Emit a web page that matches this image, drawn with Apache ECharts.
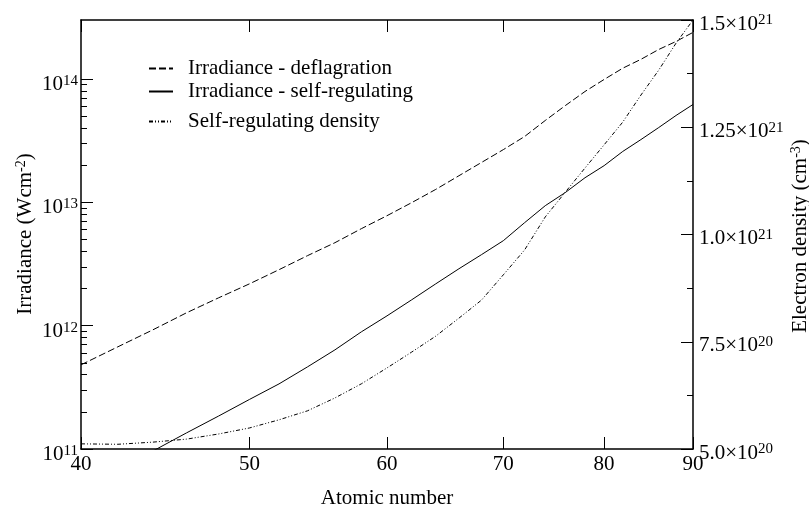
<!DOCTYPE html>
<html>
<head>
<meta charset="utf-8">
<script src="https://cdn.jsdelivr.net/npm/echarts@6/dist/echarts.min.js"></script>
<style>
  html, body { margin: 0; padding: 0; background: #fff; }
  #chart { width: 809px; height: 508px; }
</style>
</head>
<body>
<div id="chart"></div>
<script>
// Atomic number (x) and the three curves sampled at each Z
const atomicNumber = [40, 42, 44, 46, 48, 50, 52, 54, 56, 58, 60, 62, 64, 66, 68, 70, 72, 74, 76, 78, 80, 82, 84, 86, 88, 90];
const irradianceDeflagration = [4.81e11, 6.73e11, 9.25e11, 1.27e12, 1.68e12, 2.18e12, 2.84e12, 3.69e12, 4.70e12, 6.11e12, 7.78e12, 9.93e12, 1.27e13, 1.64e13, 2.10e13, 2.67e13, 3.41e13, 4.60e13, 6.08e13, 7.90e13, 9.89e13, 1.22e14, 1.44e14, 1.73e14, 2.01e14, 2.38e14];
const irradianceSelfRegulating = [4.73e10, 6.89e10, 9.63e10, 1.35e11, 1.85e11, 2.52e11, 3.37e11, 4.63e11, 6.36e11, 8.91e11, 1.20e12, 1.62e12, 2.18e12, 2.89e12, 3.76e12, 4.88e12, 6.83e12, 9.38e12, 1.20e13, 1.58e13, 1.98e13, 2.58e13, 3.22e13, 4.03e13, 5.05e13, 6.20e13];
const electronDensity = [5.12e20, 5.11e20, 5.16e20, 5.23e20, 5.35e20, 5.49e20, 5.68e20, 5.89e20, 6.19e20, 6.52e20, 6.89e20, 7.26e20, 7.63e20, 8.05e20, 8.47e20, 9.06e20, 9.64e20, 10.41e20, 10.99e20, 11.55e20, 12.09e20, 12.62e20, 13.25e20, 13.83e20, 14.46e20, 15.0e20];

// Tick values
const xTicks = [40, 50, 60, 70, 80, 90];
const irradianceMajorTicks = [1e11, 1e12, 1e13, 1e14];
const irradianceMinorTicks = [];
[1e11, 1e12, 1e13].forEach(function (decade) {
  for (let k = 2; k <= 9; k++) irradianceMinorTicks.push(k * decade);
});

const seriesNames = ['Irradiance - deflagration', 'Irradiance - self-regulating', 'Self-regulating density'];

const FONT = 'Liberation Serif';
const FS = 21;
const BLACK = '#000';

function pairs(values) {
  return atomicNumber.map(function (z, i) { return [z, values[i]]; });
}

function powerLabel(value) {
  const exp = Math.round(Math.log10(value));
  return '{b|10}{s|' + exp + '}';
}

function densityLabel(value) {
  const exp = Math.floor(Math.log10(value) + 1e-9);
  const m = Math.round(value / Math.pow(10, exp) * 1000) / 1000;
  const ms = (m % 1 === 0) ? m.toFixed(1) : String(m);
  return '{b|' + ms + '\u00d710}{s|' + exp + '}';
}

const richLabel = {
  b: { fontFamily: FONT, fontSize: FS, color: BLACK, lineHeight: 22 },
  s: { fontFamily: FONT, fontSize: 15, color: BLACK, verticalAlign: 'top', lineHeight: 22, padding: [0, 0, 10, 0] }
};

const richName = {
  t: { fontFamily: FONT, fontSize: FS, fill: BLACK, color: BLACK, lineHeight: 22 },
  s: { fontFamily: FONT, fontSize: 14, fill: BLACK, color: BLACK, verticalAlign: 'top', lineHeight: 22, padding: [0, 0, 8, 0] }
};

// Vertical axis titles, reading bottom to top
function axisTitle(text, x, y) {
  return {
    type: 'text', x: x, y: y, rotation: Math.PI / 2, silent: true,
    style: { text: text, rich: richName, align: 'center', verticalAlign: 'middle', fill: BLACK }
  };
}

const chart = echarts.init(document.getElementById('chart'), null, { renderer: 'canvas' });

function legendAt(name, top) {
  return {
    data: [name],
    left: 148,
    top: top,
    padding: 0,
    orient: 'vertical',
    itemWidth: 24,
    itemHeight: 14,
    selectedMode: false,
    itemStyle: { opacity: 0 },
    textStyle: { fontFamily: FONT, fontSize: FS, color: BLACK, padding: [0, 0, 0, 10] }
  };
}

const option = {
  animation: false,
  backgroundColor: '#fff',
  grid: { left: 81, right: 116, top: 20, bottom: 59, containLabel: false, outerBoundsMode: 'none' },
  legend: [
    legendAt(seriesNames[0], 58),
    legendAt(seriesNames[1], 81),
    legendAt(seriesNames[2], 111)
  ],
  graphic: [
    axisTitle('{t|Irradiance (Wcm}{s|-2}{t|)}', 25, 234),
    axisTitle('{t|Electron density (cm}{s|-3}{t|)}', 800, 236)
  ],
  xAxis: [
    {
      type: 'log', logBase: 10, min: 40, max: 90, position: 'bottom',
      name: 'Atomic number', nameLocation: 'middle', nameGap: 39,
      nameTextStyle: { fontFamily: FONT, fontSize: FS, color: BLACK },
      axisLine: { show: true, lineStyle: { color: BLACK, width: 1.5 } },
      axisTick: { show: true, inside: true, length: 12, customValues: xTicks, lineStyle: { color: BLACK, width: 1 } },
      axisLabel: { show: true, customValues: xTicks, margin: 5, fontFamily: FONT, fontSize: FS, color: BLACK },
      splitLine: { show: false }, minorTick: { show: false }
    },
    {
      type: 'log', logBase: 10, min: 40, max: 90, position: 'top',
      axisLine: { show: true, lineStyle: { color: BLACK, width: 1.5 } },
      axisTick: { show: true, inside: true, length: 12, customValues: xTicks, lineStyle: { color: BLACK, width: 1 } },
      axisLabel: { show: false },
      splitLine: { show: false }
    }
  ],
  yAxis: [
    {
      type: 'log', logBase: 10, min: 1e11, max: 3e14, position: 'left',
      axisLine: { show: true, lineStyle: { color: BLACK, width: 1.5 } },
      axisTick: { show: true, inside: true, length: 12, customValues: irradianceMajorTicks, lineStyle: { color: BLACK, width: 1 } },
      axisLabel: { show: true, customValues: irradianceMajorTicks, margin: 3, padding: [11, 0, 0, 0], formatter: powerLabel, rich: richLabel },
      splitLine: { show: false }
    },
    {
      type: 'log', logBase: 10, min: 1e11, max: 3e14, position: 'left',
      axisLine: { show: false },
      axisTick: { show: true, inside: true, length: 6, customValues: irradianceMinorTicks, lineStyle: { color: BLACK, width: 1 } },
      axisLabel: { show: false },
      splitLine: { show: false }
    },
    {
      type: 'value', min: 5e20, max: 1.5e21, interval: 2.5e20, position: 'right',
      axisLine: { show: true, lineStyle: { color: BLACK, width: 1.5 } },
      axisTick: { show: true, inside: true, length: 12, lineStyle: { color: BLACK, width: 1 } },
      minorTick: { show: true, splitNumber: 2, length: 6, lineStyle: { color: BLACK, width: 1 } },
      axisLabel: { show: true, margin: 6, padding: [8, 0, 0, 0], formatter: densityLabel, rich: richLabel },
      splitLine: { show: false }, minorSplitLine: { show: false }
    }
  ],
  series: [
    {
      name: seriesNames[0], type: 'line', xAxisIndex: 0, yAxisIndex: 0,
      data: pairs(irradianceDeflagration), symbol: 'none', clip: true,
      lineStyle: { color: BLACK, width: 1, type: [7, 3] }, itemStyle: { color: BLACK }
    },
    {
      name: seriesNames[1], type: 'line', xAxisIndex: 0, yAxisIndex: 0,
      data: pairs(irradianceSelfRegulating), symbol: 'none', clip: true,
      lineStyle: { color: BLACK, width: 1, type: 'solid' }, itemStyle: { color: BLACK }
    },
    {
      name: seriesNames[2], type: 'line', xAxisIndex: 0, yAxisIndex: 2,
      data: pairs(electronDensity), symbol: 'none', clip: true,
      lineStyle: { color: BLACK, width: 1, type: [4, 2, 1, 2, 1, 2] }, itemStyle: { color: BLACK }
    }
  ]
};

chart.setOption(option);
</script>
</body>
</html>
